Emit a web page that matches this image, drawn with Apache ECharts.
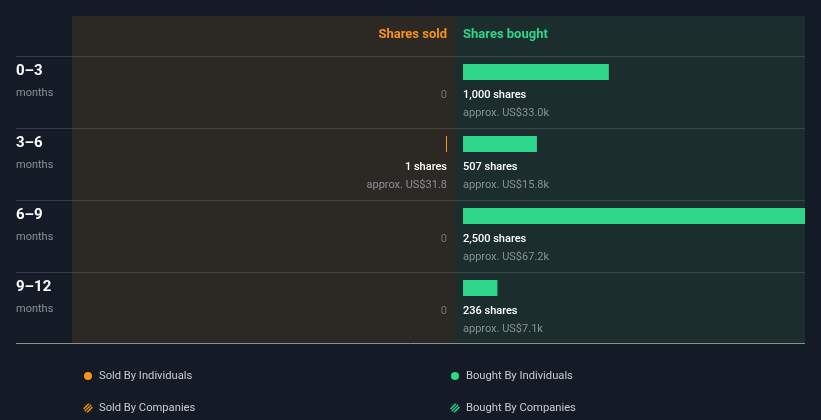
<!DOCTYPE html>
<html>
<head>
<meta charset="utf-8">
<script src="https://cdn.jsdelivr.net/npm/echarts@6/dist/echarts.min.js"></script>
<style>
html,body{margin:0;padding:0;background:#151b26;}
#chart{width:821px;height:420px;}
</style>
</head>
<body>
<div id="chart"></div>
<script>
const periods = ['0–3', '3–6', '6–9', '9–12'];
const periodUnit = 'months';
const soldShares = [0, 1, 0, 0];
const soldUSD = [0, 31.8, 0, 0];
const boughtShares = [1000, 507, 2500, 236];
const boughtUSD = [33000, 15800, 67200, 7100];
const legendItems = ['Sold By Individuals', 'Bought By Individuals', 'Sold By Companies', 'Bought By Companies'];

const ORANGE = '#f7931a';
const GREEN = '#2ed68a';
const GREY = '#8a9096';
const FONT = 'Roboto, "Noto Sans", sans-serif';
const AXIS_MAX = 2345;

function fmtUSD(v){
  return 'US$' + (v >= 1000 ? (v/1000).toFixed(1) + 'k' : v.toFixed(1));
}
function cs(params){
  return {x: params.coordSys.x, y: params.coordSys.y, width: params.coordSys.width, height: params.coordSys.height};
}

function renderSold(params, api){
  const idx = api.value(1);
  const shares = api.value(0);
  const s = api.coord([0, idx]);
  const e = api.coord([shares, idx]);
  const cy = s[1];
  const children = [];
  children.push({type:'text', style:{x:16, y:cy-21, text:periods[idx], fill:'#ffffff', font:'bold 15px ' + FONT, verticalAlign:'middle'}});
  children.push({type:'text', style:{x:16, y:cy+1, text:periodUnit, fill:GREY, font:'11px ' + FONT, verticalAlign:'middle'}});
  if (shares === 0) {
    children.push({type:'text', style:{x:s[0], y:cy+3, text:'0', fill:'#6e6e6e', font:'11px ' + FONT, align:'right', verticalAlign:'middle'}});
  } else {
    let w = Math.max(1, s[0] - e[0]);
    const r = echarts.graphic.clipRectByRect({x:s[0]-w, y:cy-28, width:w, height:16}, cs(params));
    if (r) children.push({type:'rect', shape:r, style:{fill:ORANGE}});
    children.push({type:'text', style:{x:s[0], y:cy+3, text:shares.toLocaleString('en-US') + ' shares', fill:'#ffffff', font:'500 11px ' + FONT, align:'right', verticalAlign:'middle'}});
    children.push({type:'text', style:{x:s[0], y:cy+21, text:'approx. ' + fmtUSD(soldUSD[idx]), fill:GREY, font:'11px ' + FONT, align:'right', verticalAlign:'middle'}});
  }
  return {type:'group', children};
}

function renderBought(params, api){
  const idx = api.value(1);
  const shares = api.value(0);
  const s = api.coord([0, idx]);
  const e = api.coord([shares, idx]);
  const cy = s[1];
  const children = [];
  if (shares === 0) {
    children.push({type:'text', style:{x:s[0], y:cy+3, text:'0', fill:'#6e6e6e', font:'11px ' + FONT, verticalAlign:'middle'}});
  } else {
    const r = echarts.graphic.clipRectByRect({x:s[0], y:cy-28, width:Math.max(1, e[0]-s[0]), height:16}, cs(params));
    if (r) children.push({type:'rect', shape:r, style:{fill:GREEN}});
    children.push({type:'text', style:{x:s[0], y:cy+3, text:shares.toLocaleString('en-US') + ' shares', fill:'#ffffff', font:'500 11px ' + FONT, verticalAlign:'middle'}});
    children.push({type:'text', style:{x:s[0], y:cy+21, text:'approx. ' + fmtUSD(boughtUSD[idx]), fill:GREY, font:'11px ' + FONT, verticalAlign:'middle'}});
  }
  return {type:'group', children};
}

function hatchIcon(cx, cy, color, bg){
  const r = 4.5;
  const kids = [{type:'circle', shape:{cx, cy, r}, style:{fill:bg}}];
  const s2 = Math.SQRT1_2;
  [-2.4, 0, 2.4].forEach(t => {
    const h = Math.sqrt(Math.max(0, r*r - t*t));
    const px = cx + t*s2, py = cy + t*s2;
    kids.push({type:'line', shape:{x1:px - h*s2, y1:py + h*s2, x2:px + h*s2, y2:py - h*s2}, style:{stroke:color, lineWidth:1.2}});
  });
  return {type:'group', children:kids};
}

const chart = echarts.init(document.getElementById('chart'), null, {renderer:'canvas'});

const graphics = [
  {type:'rect', z:-10, shape:{x:72, y:16, width:383, height:327}, style:{fill:'#2c2823'}},
  {type:'rect', z:-10, shape:{x:455, y:16, width:350, height:327}, style:{fill:'#1b2e2d'}},
  {type:'text', style:{x:447, y:35, text:'Shares sold', fill:ORANGE, font:'bold 13px ' + FONT, align:'right', verticalAlign:'middle'}},
  {type:'text', style:{x:463, y:35, text:'Shares bought', fill:GREEN, font:'bold 13px ' + FONT, verticalAlign:'middle'}}
];
[56, 128, 200, 272].forEach(y => {
  graphics.push({type:'line', z:-5, shape:{x1:16, y1:y+0.5, x2:805, y2:y+0.5}, style:{stroke:'rgba(255,255,255,0.13)', lineWidth:1}});
});
graphics.push({type:'line', z:-5, shape:{x1:16, y1:343.5, x2:805, y2:343.5}, style:{stroke:'#8a9191', lineWidth:1}});
// legend
const legPos = [[88, 376], [455, 376], [88, 408], [455, 408]];
const legColors = [ORANGE, GREEN, ORANGE, GREEN];
const legBg = ['', '', '#3a2a16', '#173a2a'];
legendItems.forEach((t, i) => {
  const [x, y] = legPos[i];
  if (i < 2) graphics.push({type:'circle', shape:{cx:x, cy:y, r:4}, style:{fill:legColors[i]}});
  else graphics.push(hatchIcon(x, y, legColors[i], legBg[i]));
  graphics.push({type:'text', style:{x:x+11, y:y, text:t, fill:'#c8ccd0', font:'11.2px ' + FONT, verticalAlign:'middle'}});
});

chart.setOption({
  backgroundColor:'#151b26',
  animation:false,
  grid:[
    {left:72, right:821-447, top:56, height:288},
    {left:463, right:16, top:56, height:288}
  ],
  xAxis:[
    {gridIndex:0, type:'value', min:0, max:AXIS_MAX, inverse:true, show:false},
    {gridIndex:1, type:'value', min:0, max:AXIS_MAX, show:false}
  ],
  yAxis:[
    {gridIndex:0, type:'category', data:periods, inverse:true, show:false},
    {gridIndex:1, type:'category', data:periods, inverse:true, show:false}
  ],
  graphic:graphics,
  series:[
    {type:'custom', xAxisIndex:0, yAxisIndex:0, renderItem:renderSold, encode:{x:0, y:1},
     data:soldShares.map((v, i) => [v, i])},
    {type:'custom', xAxisIndex:1, yAxisIndex:1, renderItem:renderBought, encode:{x:0, y:1},
     data:boughtShares.map((v, i) => [v, i])}
  ]
});
</script>
</body>
</html>
